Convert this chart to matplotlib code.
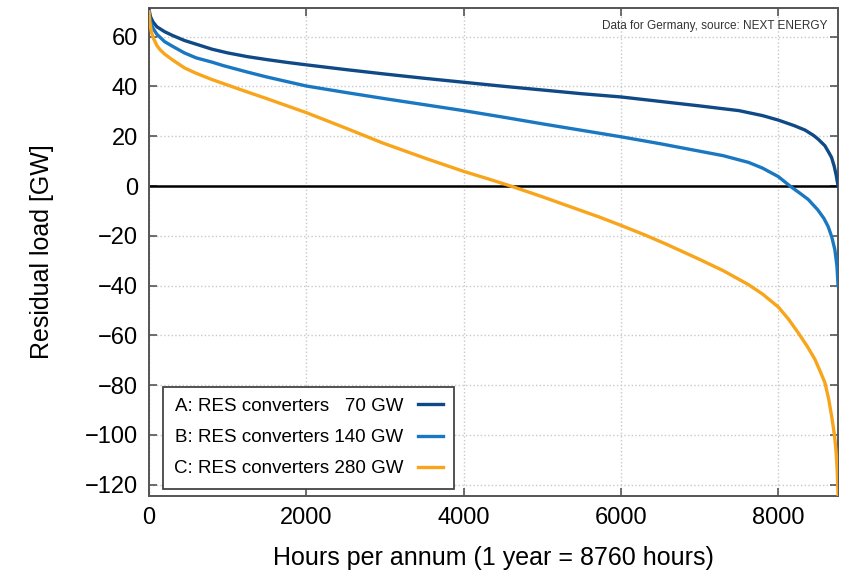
import matplotlib.pyplot as plt

# values (hours, GW)
hours_a = [0, 20, 50, 100, 200, 300, 450, 600, 800, 1000, 1250, 1500, 1750, 2000,
           2500, 3000, 3500, 4000, 4500, 5000, 5500, 6000, 6500, 7000, 7500, 7800,
           8000, 8200, 8339, 8450, 8508, 8592, 8640, 8677, 8710, 8735, 8760]
load_a = [71, 68, 66, 64, 62, 60.5, 58.5, 57, 55, 53.5, 52, 50.8, 49.7, 48.7,
          46.8, 45, 43.3, 41.7, 40.1, 38.6, 37.1, 35.8, 34, 32.2, 30.3, 28.3,
          26.5, 24.3, 22.5, 20.3, 18.8, 16.2, 13.6, 11.5, 8, 4.5, 0]

hours_b = [0, 20, 50, 100, 200, 308, 450, 600, 800, 943, 1250, 1500, 1750, 2000,
           2500, 3000, 3500, 4000, 4500, 5000, 5500, 6000, 6500, 7000, 7300, 7622,
           7800, 8000, 8149, 8280, 8381, 8500, 8580, 8634, 8680, 8719, 8745, 8760]
load_b = [70, 66, 63.5, 61, 58, 56, 53.5, 51.5, 49.8, 48.4, 45.8, 43.8, 42, 40.2,
          37.6, 35.1, 32.7, 30.3, 27.7, 25, 22.4, 19.8, 17, 14, 12.2, 9.5,
          7.2, 3.8, 0, -3, -5.4, -9.5, -13, -16.3, -20.5, -25.6, -32, -40]

hours_c = [0, 10, 30, 55, 100, 140, 200, 308, 450, 600, 800, 943, 1250, 1500,
           1750, 2000, 2500, 2971, 3500, 4000, 4300, 4600, 5000, 5400, 5720, 6000,
           6300, 6565, 6988, 7300, 7620, 7800, 8000, 8130, 8254, 8370, 8465, 8540,
           8592, 8640, 8677, 8700, 8719, 8735, 8748, 8760]
load_c = [70, 66, 62, 59.5, 56.5, 54.8, 53, 50.5, 47.5, 45.3, 42.8, 41.2, 37.8, 35.1,
          32.3, 29.5, 23.3, 17.3, 11.3, 5.9, 3, 0, -4.3, -8.8, -12.4, -15.8,
          -19.6, -23.2, -29.3, -34, -39.6, -43.4, -48.6, -53.5, -59, -64.5, -69.6, -75,
          -79, -85.5, -92.3, -97, -101.6, -107, -114, -124]

labels = ["A: RES converters   70 GW",
          "B: RES converters 140 GW",
          "C: RES converters 280 GW"]
colors = ["#0f4a86", "#1a78c2", "#f8a51c"]

plt.rcParams['font.family'] = ['Liberation Sans Narrow', 'Liberation Sans', 'DejaVu Sans']

fig = plt.figure(figsize=(8.44, 5.78), dpi=100)
ax = fig.add_axes([0.1765, 0.142, 0.8165, 0.844])

ax.axhline(0, color='black', lw=1.8, zorder=2)
ax.plot(hours_a, load_a, color=colors[0], lw=2.4, label=labels[0], zorder=3)
ax.plot(hours_b, load_b, color=colors[1], lw=2.4, label=labels[1], zorder=3)
ax.plot(hours_c, load_c, color=colors[2], lw=2.4, label=labels[2], zorder=3)

ax.set_xlim(0, 8760)
ax.set_ylim(-124.5, 71.5)
ax.set_xticks([0, 2000, 4000, 6000, 8000])
ax.set_yticks(range(-120, 61, 20))
ax.set_yticklabels([str(v).replace('-', '\u2212') for v in range(-120, 61, 20)])
ax.grid(True, color='#c8c8c8', ls=':', lw=1.0)
ax.tick_params(direction='in', top=True, right=True, length=6, width=1.2,
               labelsize=17, pad=8, color='#555555')
for s in ax.spines.values():
    s.set_color('#555555')
    s.set_linewidth(1.4)

ax.set_xlabel('Hours per annum (1 year = 8760 hours)', fontsize=18, labelpad=12)
ax.set_ylabel('Residual load [GW]', fontsize=18, labelpad=22)

ax.text(0.985, 0.975, 'Data for Germany, source: NEXT ENERGY', transform=ax.transAxes,
        ha='right', va='top', fontsize=8.5, color='#333333')

leg = ax.legend(loc='lower left', bbox_to_anchor=(0.02, 0.015), fontsize=13.5,
                markerfirst=False, fancybox=False, framealpha=1, handlelength=1.3,
                borderpad=0.6, labelspacing=0.75, borderaxespad=0)
leg.get_frame().set_edgecolor('#444444')
leg.get_frame().set_linewidth(1.3)

plt.savefig('out.png', format='png')
